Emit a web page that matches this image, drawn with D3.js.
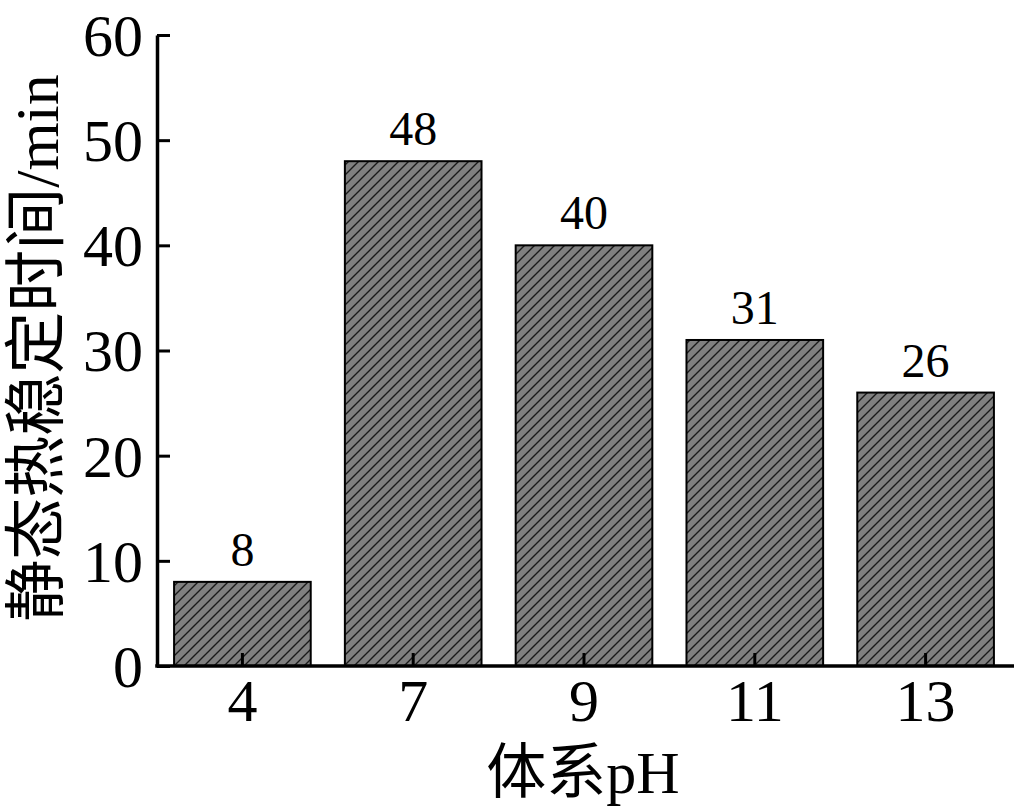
<!DOCTYPE html>
<html><head><meta charset="utf-8">
<script src="https://cdn.jsdelivr.net/npm/d3@7"></script>
<style>
html,body{margin:0;padding:0;background:#fff;}
svg{display:block;}
text{font-family:"Times New Roman","Liberation Serif","DejaVu Serif","Noto Sans CJK SC",serif;fill:#000;}
</style></head>
<body>
<svg id="chart" width="1014" height="811"></svg>
<script>
const categories = ["4","7","9","11","13"];
const values = [8,48,40,31,26];
const yTicks = [0,10,20,30,40,50,60];
const xTitle = "体系pH";
const yTitle = "静态热稳定时间/min";

const FONT = '"Times New Roman","Liberation Serif","DejaVu Serif","Noto Sans CJK SC",serif';
const svg = d3.select("#chart");
const axisX0 = 157, axisY0 = 666;
const y = d3.scaleLinear().domain([0,60]).range([666,35]);
const x = d3.scaleBand().domain(categories).range([157,1011]).paddingInner(0.2).paddingOuter(0.1);

const defs = svg.append("defs");
const pat = defs.append("pattern").attr("id","hatch").attr("patternUnits","userSpaceOnUse")
  .attr("width",10).attr("height",10);
pat.append("rect").attr("width",10).attr("height",10).attr("fill","#808080");
pat.append("path").attr("d","M-2,12 L12,-2 M-7,7 L7,-7 M3,17 L17,3")
  .attr("stroke","#1a1a1a").attr("stroke-width",1.4);

// bars
svg.append("g").selectAll("rect").data(values).join("rect")
  .attr("x",(d,i)=>x(categories[i]))
  .attr("y",d=>y(d))
  .attr("width",x.bandwidth())
  .attr("height",d=>y(0)-y(d))
  .attr("fill","url(#hatch)")
  .attr("stroke","#000").attr("stroke-width",2);

// value labels
svg.append("g").selectAll("text").data(values).join("text")
  .attr("x",(d,i)=>x(categories[i])+x.bandwidth()/2)
  .attr("y",d=>y(d)-16)
  .attr("text-anchor","middle")
  .attr("font-family",FONT)
  .attr("font-size",48)
  .text(d=>d);

// y axis
const yAxis = d3.axisLeft(y).tickValues(yTicks).tickSizeInner(-13).tickSizeOuter(0).tickPadding(14);
const gy = svg.append("g").attr("transform",`translate(${axisX0},0)`).call(yAxis);
gy.select(".domain").attr("stroke","#000").attr("stroke-width",3.5);
gy.selectAll(".tick line").attr("stroke","#000").attr("stroke-width",3);
gy.selectAll(".tick text").attr("font-size",60).attr("font-family",FONT).attr("fill","#000").attr("dy","0.34em");

// x axis
const xAxis = d3.axisBottom(x).tickSizeInner(-13).tickSizeOuter(0).tickPadding(12);
const gx = svg.append("g").attr("transform",`translate(0,${axisY0})`).call(xAxis);
gx.select(".domain").attr("d",`M${axisX0-1.75},0H1014`).attr("stroke","#000").attr("stroke-width",3.5);
gx.selectAll(".tick line").attr("stroke","#000").attr("stroke-width",3);
gx.selectAll(".tick text").attr("font-size",60).attr("font-family",FONT).attr("fill","#000").attr("dy","0.71em");

// titles
svg.append("text").attr("x",583).attr("y",793).attr("text-anchor","middle").attr("font-family",FONT).attr("font-size",60).text(xTitle);
svg.append("text").attr("transform","translate(58,348) rotate(-90)").attr("text-anchor","middle").attr("font-family",FONT).attr("font-size",62).text(yTitle);
</script>
</body></html>
